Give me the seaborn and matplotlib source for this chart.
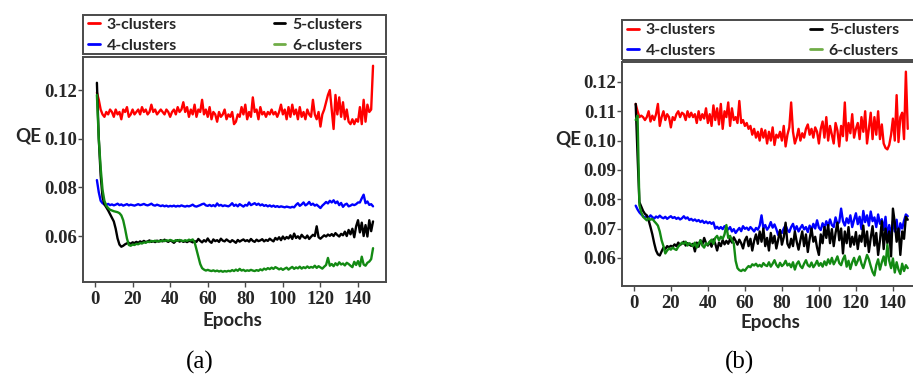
import numpy as np
import pandas as pd
import matplotlib
matplotlib.use("Agg")
import matplotlib.pyplot as plt
import seaborn as sns
from matplotlib.lines import Line2D
from matplotlib.patches import Rectangle

# ---------------- data ----------------
epochs = list(range(1, 149))
series_names = ["3-clusters", "4-clusters", "5-clusters", "6-clusters"]
line_colors = ["#ff0000", "#0000ff", "#000000", "#138a13"]
legend_colors = ["#ff0000", "#0000ff", "#000000", "#70ad47"]

xticks = [0, 20, 40, 60, 80, 100, 120, 140]
yticks_a = [0.06, 0.08, 0.10, 0.12]
yticks_b = [0.06, 0.07, 0.08, 0.09, 0.10, 0.11, 0.12]

red_a = [
    0.119, 0.116, 0.112, 0.110, 0.109, 0.111, 0.110, 0.112, 0.111, 0.109,
    0.112, 0.110, 0.111, 0.108, 0.112, 0.111, 0.113, 0.109, 0.110, 0.112,
    0.110, 0.111, 0.112, 0.110, 0.113, 0.111, 0.112, 0.110, 0.111, 0.114,
    0.111, 0.112, 0.110, 0.111, 0.112, 0.111, 0.110, 0.112, 0.111, 0.109,
    0.111, 0.112, 0.110, 0.113, 0.111, 0.112, 0.115, 0.111, 0.113, 0.109,
    0.112, 0.110, 0.114, 0.109, 0.112, 0.111, 0.116, 0.110, 0.112, 0.109,
    0.113, 0.108, 0.111, 0.110, 0.107, 0.111, 0.109, 0.110, 0.112, 0.108,
    0.110, 0.109, 0.111, 0.106, 0.107, 0.110, 0.109, 0.113, 0.110, 0.114,
    0.108, 0.111, 0.109, 0.117, 0.111, 0.112, 0.108, 0.113, 0.110, 0.111,
    0.109, 0.111, 0.110, 0.112, 0.110, 0.111, 0.109, 0.111, 0.114, 0.110,
    0.112, 0.108, 0.113, 0.109, 0.114, 0.110, 0.112, 0.108, 0.113, 0.109,
    0.111, 0.108, 0.112, 0.110, 0.109, 0.116, 0.110, 0.108, 0.111, 0.105,
    0.110, 0.112, 0.115, 0.118, 0.120, 0.112, 0.104, 0.118, 0.110, 0.117,
    0.109, 0.115, 0.108, 0.112, 0.107, 0.106, 0.108, 0.106, 0.108, 0.107,
    0.113, 0.106, 0.116, 0.107, 0.114, 0.111, 0.112, 0.130,
]
blue_a = [
    0.0830, 0.0780, 0.0745, 0.0735, 0.0730, 0.0728, 0.0732, 0.0727, 0.0730, 0.0726,
    0.0729, 0.0733, 0.0727, 0.0730, 0.0725, 0.0728, 0.0731, 0.0726, 0.0729, 0.0727,
    0.0725, 0.0728, 0.0731, 0.0727, 0.0729, 0.0732, 0.0728, 0.0726, 0.0729, 0.0733,
    0.0727, 0.0725, 0.0729, 0.0726, 0.0723, 0.0726, 0.0722, 0.0725, 0.0721, 0.0724,
    0.0722, 0.0725, 0.0721, 0.0724, 0.0722, 0.0726, 0.0723, 0.0721, 0.0724, 0.0722,
    0.0725, 0.0729, 0.0723, 0.0721, 0.0724, 0.0727, 0.0731, 0.0733, 0.0726, 0.0724,
    0.0728, 0.0723, 0.0727, 0.0722, 0.0734, 0.0725, 0.0728, 0.0723, 0.0726, 0.0724,
    0.0722, 0.0727, 0.0735, 0.0724, 0.0729, 0.0722, 0.0731, 0.0726, 0.0721, 0.0728,
    0.0725, 0.0738, 0.0727, 0.0731, 0.0735, 0.0728, 0.0733, 0.0726, 0.0730, 0.0724,
    0.0727, 0.0722, 0.0726, 0.0721, 0.0725, 0.0720, 0.0723, 0.0719, 0.0722, 0.0720,
    0.0718, 0.0721, 0.0719, 0.0717, 0.0720, 0.0718, 0.0728, 0.0735, 0.0724, 0.0730,
    0.0738, 0.0726, 0.0731, 0.0740, 0.0728, 0.0733, 0.0725, 0.0729, 0.0722, 0.0715,
    0.0725, 0.0732, 0.0740, 0.0734, 0.0745, 0.0738, 0.0747, 0.0735, 0.0742, 0.0727,
    0.0736, 0.0720, 0.0729, 0.0733, 0.0722, 0.0725, 0.0730, 0.0727, 0.0731, 0.0738,
    0.0738, 0.0755, 0.0770, 0.0735, 0.0742, 0.0728, 0.0731, 0.0722,
]
black_a = [
    0.1230, 0.1000, 0.0850, 0.0760, 0.0730, 0.0718, 0.0705, 0.0690, 0.0675, 0.0660,
    0.0630, 0.0590, 0.0565, 0.0556, 0.0560, 0.0566, 0.0570, 0.0572, 0.0568, 0.0574,
    0.0571, 0.0576, 0.0572, 0.0578, 0.0574, 0.0580, 0.0575, 0.0578, 0.0582, 0.0576,
    0.0579, 0.0575, 0.0581, 0.0577, 0.0583, 0.0578, 0.0585, 0.0580, 0.0576, 0.0582,
    0.0578, 0.0572, 0.0580, 0.0583, 0.0577, 0.0581, 0.0576, 0.0579, 0.0575, 0.0580,
    0.0578, 0.0574, 0.0579, 0.0576, 0.0588, 0.0580, 0.0574, 0.0583, 0.0577, 0.0590,
    0.0578, 0.0572, 0.0586, 0.0579, 0.0583, 0.0576, 0.0589, 0.0581, 0.0578, 0.0586,
    0.0580, 0.0575, 0.0583, 0.0578, 0.0572, 0.0584, 0.0577, 0.0582, 0.0586, 0.0579,
    0.0583, 0.0577, 0.0588, 0.0580, 0.0576, 0.0585, 0.0579, 0.0582, 0.0587, 0.0578,
    0.0584, 0.0580, 0.0589, 0.0583, 0.0578, 0.0592, 0.0585, 0.0595, 0.0583, 0.0598,
    0.0587, 0.0596, 0.0590, 0.0603, 0.0588, 0.0610, 0.0592, 0.0599, 0.0589, 0.0605,
    0.0596, 0.0591, 0.0602, 0.0588, 0.0597, 0.0605, 0.0600, 0.0640, 0.0595, 0.0589,
    0.0596, 0.0603, 0.0598, 0.0606, 0.0601, 0.0608, 0.0600, 0.0612, 0.0604, 0.0598,
    0.0609, 0.0603, 0.0618, 0.0600, 0.0625, 0.0607, 0.0630, 0.0595, 0.0640, 0.0665,
    0.0615, 0.0655, 0.0600, 0.0645, 0.0598, 0.0665, 0.0620, 0.0660,
]
green_a = [
    0.1180, 0.1000, 0.0880, 0.0790, 0.0745, 0.0725, 0.0715, 0.0708, 0.0705, 0.0702,
    0.0700, 0.0698, 0.0694, 0.0685, 0.0665, 0.0630, 0.0590, 0.0563, 0.0560, 0.0565,
    0.0563, 0.0568, 0.0566, 0.0571, 0.0569, 0.0574, 0.0572, 0.0577, 0.0575, 0.0580,
    0.0578, 0.0581, 0.0577, 0.0580, 0.0578, 0.0582, 0.0579, 0.0583, 0.0580, 0.0584,
    0.0581, 0.0578, 0.0583, 0.0580, 0.0584, 0.0581, 0.0579, 0.0583, 0.0580, 0.0585,
    0.0582, 0.0586, 0.0575, 0.0545, 0.0515, 0.0485, 0.0468, 0.0462, 0.0458, 0.0461,
    0.0458, 0.0456, 0.0459, 0.0455, 0.0458, 0.0454, 0.0457, 0.0453, 0.0456, 0.0454,
    0.0457, 0.0455, 0.0460, 0.0456, 0.0462, 0.0457, 0.0465, 0.0458, 0.0461, 0.0456,
    0.0459, 0.0457, 0.0461, 0.0458, 0.0456, 0.0460, 0.0457, 0.0463, 0.0459, 0.0466,
    0.0462, 0.0468, 0.0464, 0.0470, 0.0465, 0.0472, 0.0468, 0.0463, 0.0467, 0.0461,
    0.0466, 0.0470, 0.0462, 0.0468, 0.0473, 0.0465, 0.0471, 0.0467, 0.0474, 0.0466,
    0.0472, 0.0468, 0.0475, 0.0469, 0.0473, 0.0470, 0.0478, 0.0469, 0.0476, 0.0471,
    0.0466, 0.0474, 0.0481, 0.0510, 0.0478, 0.0485, 0.0476, 0.0488, 0.0480, 0.0492,
    0.0483, 0.0487, 0.0479, 0.0490, 0.0485, 0.0478, 0.0472, 0.0494, 0.0481, 0.0497,
    0.0476, 0.0515, 0.0483, 0.0478, 0.0490, 0.0495, 0.0505, 0.0550,
]

red_b = [
    0.1125, 0.1100, 0.1080, 0.1085, 0.1080, 0.1070, 0.1080, 0.1100, 0.1065, 0.1085,
    0.1070, 0.1090, 0.1125, 0.1050, 0.1080, 0.1100, 0.1070, 0.1090, 0.1080, 0.1045,
    0.1080, 0.1070, 0.1090, 0.1100, 0.1080, 0.1095, 0.1090, 0.1070, 0.1100, 0.1080,
    0.1095, 0.1080, 0.1090, 0.1060, 0.1100, 0.1070, 0.1090, 0.1075, 0.1110, 0.1060,
    0.1090, 0.1050, 0.1120, 0.1070, 0.1110, 0.1055, 0.1125, 0.1040, 0.1100, 0.1080,
    0.1130, 0.1050, 0.1110, 0.1070, 0.1080, 0.1060, 0.1135, 0.1060, 0.1070, 0.1050,
    0.1060, 0.1040, 0.1050, 0.1020, 0.1040, 0.1010, 0.1030, 0.1000, 0.1040, 0.1010,
    0.1035, 0.0990, 0.1030, 0.1000, 0.1045, 0.0985, 0.1020, 0.1010, 0.1030, 0.1000,
    0.1050, 0.0980, 0.1020, 0.1045, 0.1130, 0.1030, 0.0990, 0.1010, 0.1040, 0.1000,
    0.1025, 0.1010, 0.1040, 0.1055, 0.1020, 0.1040, 0.1010, 0.1045, 0.1030, 0.0990,
    0.1040, 0.1065, 0.1010, 0.1080, 0.1000, 0.1050, 0.1020, 0.0990, 0.1060, 0.1035,
    0.0980, 0.1050, 0.1015, 0.1130, 0.1000, 0.1060, 0.1025, 0.1090, 0.1010, 0.1040,
    0.1060, 0.1005, 0.1080, 0.1030, 0.1100, 0.0990, 0.1040, 0.1095, 0.1005, 0.1080,
    0.1020, 0.1100, 0.1005, 0.1055, 0.0990, 0.0975, 0.0970, 0.0985, 0.1020, 0.1075,
    0.1000, 0.1155, 0.0995, 0.1080, 0.1095, 0.1005, 0.1235, 0.1040,
]
blue_b = [
    0.0778, 0.0765, 0.0755, 0.0748, 0.0742, 0.0738, 0.0743, 0.0736, 0.0745, 0.0739,
    0.0734, 0.0741, 0.0737, 0.0744, 0.0738, 0.0735, 0.0740, 0.0733, 0.0738, 0.0742,
    0.0736, 0.0739, 0.0733, 0.0737, 0.0731, 0.0735, 0.0742, 0.0734, 0.0738, 0.0729,
    0.0733, 0.0727, 0.0731, 0.0725, 0.0729, 0.0722, 0.0727, 0.0719, 0.0724, 0.0718,
    0.0722, 0.0716, 0.0721, 0.0700, 0.0706, 0.0699, 0.0705, 0.0698, 0.0708, 0.0702,
    0.0697, 0.0705, 0.0690, 0.0698, 0.0685, 0.0694, 0.0702, 0.0691, 0.0708, 0.0699,
    0.0703, 0.0695, 0.0705, 0.0698, 0.0690, 0.0702, 0.0696, 0.0710, 0.0745, 0.0700,
    0.0712, 0.0696, 0.0705, 0.0722, 0.0703, 0.0714, 0.0698, 0.0678, 0.0692, 0.0685,
    0.0700, 0.0711, 0.0695, 0.0688, 0.0705, 0.0716, 0.0694, 0.0708, 0.0690, 0.0702,
    0.0712, 0.0697, 0.0705, 0.0688, 0.0710, 0.0695, 0.0716, 0.0700, 0.0728, 0.0703,
    0.0695, 0.0718, 0.0702, 0.0725, 0.0708, 0.0731, 0.0712, 0.0705, 0.0738, 0.0715,
    0.0722, 0.0768, 0.0725, 0.0710, 0.0735, 0.0718, 0.0745, 0.0705, 0.0730, 0.0752,
    0.0715, 0.0740, 0.0698, 0.0760, 0.0722, 0.0745, 0.0710, 0.0758, 0.0725, 0.0738,
    0.0705, 0.0748, 0.0716, 0.0732, 0.0695, 0.0740, 0.0668, 0.0712, 0.0676, 0.0725,
    0.0690, 0.0730, 0.0672, 0.0718, 0.0700, 0.0727, 0.0748, 0.0742,
]
black_b = [
    0.1125, 0.0950, 0.0790, 0.0775, 0.0760, 0.0750, 0.0745, 0.0728, 0.0705, 0.0680,
    0.0650, 0.0625, 0.0612, 0.0608, 0.0622, 0.0635, 0.0630, 0.0640, 0.0636, 0.0641,
    0.0638, 0.0646, 0.0640, 0.0652, 0.0644, 0.0649, 0.0655, 0.0642, 0.0650, 0.0645,
    0.0641, 0.0648, 0.0622, 0.0652, 0.0638, 0.0660, 0.0645, 0.0668, 0.0650, 0.0642,
    0.0655, 0.0638, 0.0663, 0.0648, 0.0625, 0.0652, 0.0640, 0.0661, 0.0646, 0.0658,
    0.0648, 0.0665, 0.0652, 0.0670, 0.0658, 0.0645, 0.0662, 0.0650, 0.0632, 0.0660,
    0.0672, 0.0640, 0.0665, 0.0625, 0.0658, 0.0680, 0.0648, 0.0690, 0.0655, 0.0700,
    0.0640, 0.0668, 0.0625, 0.0685, 0.0650, 0.0675, 0.0632, 0.0662, 0.0695, 0.0645,
    0.0670, 0.0720, 0.0648, 0.0635, 0.0665, 0.0640, 0.0690, 0.0655, 0.0628, 0.0660,
    0.0690, 0.0640, 0.0680, 0.0620, 0.0665, 0.0700, 0.0655, 0.0672, 0.0635, 0.0610,
    0.0680, 0.0650, 0.0705, 0.0668, 0.0712, 0.0650, 0.0698, 0.0640, 0.0685, 0.0720,
    0.0660, 0.0700, 0.0615, 0.0690, 0.0650, 0.0705, 0.0638, 0.0672, 0.0645, 0.0688,
    0.0630, 0.0676, 0.0655, 0.0710, 0.0640, 0.0690, 0.0620, 0.0668, 0.0708, 0.0642,
    0.0685, 0.0610, 0.0660, 0.0725, 0.0630, 0.0700, 0.0650, 0.0690, 0.0605, 0.0768,
    0.0720, 0.0655, 0.0700, 0.0610, 0.0690, 0.0665, 0.0740, 0.0730,
]
green_b = [
    0.1070, 0.1085, 0.0780, 0.0755, 0.0740, 0.0734, 0.0728, 0.0735, 0.0730, 0.0733,
    0.0725, 0.0718, 0.0710, 0.0690, 0.0660, 0.0640, 0.0615, 0.0625, 0.0632, 0.0628,
    0.0635, 0.0630, 0.0627, 0.0638, 0.0645, 0.0652, 0.0648, 0.0655, 0.0642, 0.0650,
    0.0646, 0.0640, 0.0652, 0.0635, 0.0648, 0.0660, 0.0642, 0.0635, 0.0650, 0.0645,
    0.0655, 0.0662, 0.0648, 0.0668, 0.0675, 0.0660, 0.0672, 0.0665, 0.0680, 0.0712,
    0.0668, 0.0675, 0.0660, 0.0650, 0.0590, 0.0565, 0.0558, 0.0555, 0.0560, 0.0556,
    0.0565, 0.0572, 0.0568, 0.0578, 0.0574, 0.0580, 0.0571, 0.0576, 0.0570, 0.0582,
    0.0575, 0.0572, 0.0585, 0.0570, 0.0580, 0.0592, 0.0576, 0.0568, 0.0583, 0.0572,
    0.0578, 0.0590, 0.0574, 0.0580, 0.0568, 0.0585, 0.0560, 0.0579, 0.0588, 0.0572,
    0.0565, 0.0580, 0.0592, 0.0575, 0.0570, 0.0584, 0.0568, 0.0577, 0.0590, 0.0573,
    0.0582, 0.0570, 0.0588, 0.0575, 0.0595, 0.0580, 0.0600, 0.0578, 0.0590, 0.0605,
    0.0582, 0.0575, 0.0595, 0.0608, 0.0570, 0.0590, 0.0562, 0.0585, 0.0600, 0.0575,
    0.0590, 0.0605, 0.0580, 0.0565, 0.0588, 0.0610, 0.0595, 0.0572, 0.0552, 0.0540,
    0.0575, 0.0595, 0.0560, 0.0585, 0.0605, 0.0575, 0.0645, 0.0590, 0.0565, 0.0598,
    0.0550, 0.0585, 0.0560, 0.0545, 0.0580, 0.0555, 0.0575, 0.0565,
]

panel_a = [red_a, blue_a, black_a, green_a]
panel_b = [red_b, blue_b, black_b, green_b]

# ---------------- styling ----------------
sns.set_theme(style="white")
plt.rcParams["font.family"] = ["DejaVu Sans"]

W, H = 913, 374
fig = plt.figure(figsize=(W / 100, H / 100), dpi=100)
fig.patch.set_facecolor("white")

FRAME = "#4a4a4a"
tick_font = dict(family="Liberation Serif", weight="bold", size=13.5)
label_font = dict(family="Lato", weight="bold", size=13.5)
legend_font = dict(family="Lato", weight="bold", size=11.5)


def px_rect(x0, y0, x1, y1):
    """pixel box (top-left origin) -> figure fraction [l, b, w, h]"""
    return [x0 / W, (H - y1) / H, (x1 - x0) / W, (y1 - y0) / H]


def make_panel(box, values, ylim, yticks, qe_pos, ep_pos, leg_box, leg_anchor, colsp):
    ax = fig.add_axes(px_rect(*box))
    df = pd.DataFrame({
        "Epoch": np.tile(epochs, len(series_names)),
        "QE": np.concatenate([np.asarray(v) for v in values]),
        "series": np.repeat(series_names, len(epochs)),
    })
    sns.lineplot(data=df, x="Epoch", y="QE", hue="series", hue_order=series_names,
                 palette=line_colors, linewidth=1.7, errorbar=None, legend=False, ax=ax)
    ax.set_xlim(-6.4, 154.9)
    ax.set_ylim(*ylim)
    ax.set_xticks(xticks)
    ax.set_xticklabels([str(t) for t in xticks], fontdict=tick_font)
    ax.set_yticks(yticks)
    ax.set_yticklabels([f"{t:.2f}" for t in yticks], fontdict=tick_font)
    ax.tick_params(axis="both", direction="out", length=3.5, width=1, color=FRAME)
    ax.tick_params(axis="x", pad=3)
    ax.tick_params(axis="y", pad=0.5)
    ax.tick_params(bottom=True, left=True)
    for sp in ax.spines.values():
        sp.set_color(FRAME)
        sp.set_linewidth(1.4)
    ax.set_facecolor("white")
    ax.set_xlabel("Epochs", fontdict=label_font)
    ax.xaxis.set_label_coords(*ep_pos)
    ax.xaxis.label.set_va("center")
    ax.set_ylabel("QE", fontdict=label_font, rotation=0)
    ax.yaxis.set_label_coords(*qe_pos)
    ax.yaxis.label.set_va("center")
    ax.yaxis.label.set_ha("center")

    # legend box above the axes (outline only)
    lb = px_rect(*leg_box)
    fig.patches.append(Rectangle((lb[0], lb[1]), lb[2], lb[3], transform=fig.transFigure,
                                 facecolor="none", edgecolor=FRAME, linewidth=1.4))
    handles = [Line2D([0], [0], color=c, linewidth=2.0) for c in legend_colors]
    ax.legend(handles, series_names, loc="center left",
              bbox_to_anchor=(leg_anchor[0] / W, (H - leg_anchor[1]) / H),
              bbox_transform=fig.transFigure, frameon=False, ncol=2,
              columnspacing=colsp, handlelength=0.72, handletextpad=0.45,
              labelspacing=0.42, borderpad=0, borderaxespad=0,
              prop=legend_font)
    return ax


make_panel((83, 57, 386, 282), panel_a, (0.0411, 0.1336), yticks_a,
           qe_pos=(-0.18, 0.649), ep_pos=(0.492, -0.169),
           leg_box=(83, 15, 386, 54), leg_anchor=(88, 35), colsp=6.05)
make_panel((622, 62, 920.5, 286), panel_b, (0.0504, 0.1268), yticks_b,
           qe_pos=(-0.181, 0.656), ep_pos=(0.496, -0.165),
           leg_box=(622, 20, 925, 60), leg_anchor=(627, 40.5), colsp=5.9)

fig.text(200 / W, (H - 362) / H, "(a)", ha="center", va="center",
         family="Liberation Serif", size=18, color="black")
fig.text(739 / W, (H - 362) / H, "(b)", ha="center", va="center",
         family="Liberation Serif", size=18, color="black")

fig.savefig("out.png", dpi=100, facecolor="white")
